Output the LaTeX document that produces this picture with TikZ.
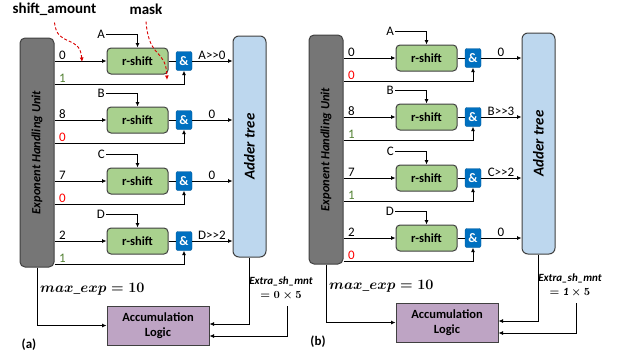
\documentclass[tikz,border=0pt]{standalone}
\usepackage{fontspec}
\setmainfont{Carlito}
\usepackage{amsmath}
\usetikzlibrary{arrows.meta}

\definecolor{ehugray}{RGB}{118,118,118}
\definecolor{edgegray}{RGB}{64,64,64}
\definecolor{shiftgreen}{RGB}{169,209,142}
\definecolor{andblue}{RGB}{0,112,192}
\definecolor{addblue}{RGB}{189,215,238}
\definecolor{accpurple}{RGB}{190,164,196}
\definecolor{maskgreen}{RGB}{84,130,53}

\tikzset{
  conn/.style={line width=0.8pt, -{Latex[length=4.5pt,width=4pt]}},
  wire/.style={line width=0.8pt},
  hint/.style={red!85!black, line width=0.9pt, dash pattern=on 3pt off 2pt,
    -{Latex[length=4.5pt,width=4pt]}},
  ehubox/.style={draw=edgegray, fill=ehugray, line width=1pt, rounded corners=5pt,
    minimum width=34pt, minimum height=229pt, inner sep=0pt,
    font=\fontsize{12.5}{14}\selectfont\bfseries\itshape},
  addbox/.style={draw=edgegray, fill=addblue, line width=1pt, rounded corners=6pt,
    minimum width=33pt, minimum height=221pt, inner sep=0pt,
    font=\fontsize{15}{17}\selectfont\bfseries\itshape},
  shiftbox/.style={draw=edgegray, fill=shiftgreen, line width=1pt, rounded corners=4pt,
    minimum width=61pt, minimum height=26pt, inner sep=0pt,
    font=\fontsize{12.5}{14}\selectfont\bfseries},
  andbox/.style={draw=andblue!80!black, fill=andblue, text=white, rounded corners=2pt,
    minimum width=16pt, minimum height=19pt, inner sep=0pt,
    font=\fontsize{13}{14}\selectfont\bfseries},
  accbox/.style={draw=edgegray, fill=accpurple, line width=1pt,
    minimum width=102pt, minimum height=39pt, inner sep=0pt, align=center,
    font=\fontsize{12.5}{15}\selectfont\bfseries},
  lbl/.style={inner sep=1pt, font=\fontsize{13}{14}\selectfont},
  toplbl/.style={inner sep=1pt, font=\fontsize{15}{17}\selectfont\bfseries},
}

% one panel: rows {y/shift/mask/colour/input/output}, extra factor, tag
\newcommand\drawpanel[3]{%
  \node[ehubox] (ehu) at (37,152.5) {\rotatebox{90}{Exponent Handling Unit}};
  \node[addbox] (add) at (249.5,146.5) {\rotatebox{90}{Adder tree}};
  \node[accbox] (acc) at (158,325.5) {Accumulation\\Logic};
  \foreach \y/\sv/\mv/\mc/\ltr/\res [count=\i] in {#1} {
    \node[shiftbox] (rs\i) at (137.5,\y) {r-shift};
    \node[andbox] (and\i) at (184,\y) {\&};
    \node[lbl, anchor=south west] (sv\i) at (58,\y) {\sv};
    \node[lbl, anchor=south west, text=\mc] (mv\i) at (58,\y+23) {\mv};
    \node[lbl, anchor=east] (in\i) at (106,\y-27) {\ltr};
    \node[lbl, anchor=south] (out\i) at (212,\y) {\res};
    \coordinate (mk\i) at (100,\y+23);
    \draw[conn] (ehu.east |- rs\i.west) -- (rs\i.west);
    \draw[conn] (in\i.east) -| (rs\i.north);
    \draw[wire] (rs\i.east) -- (and\i.west);
    \draw[conn] (ehu.east |- mk\i) -| (and\i.south);
    \draw[conn] (and\i.east) -- (add.west |- and\i.east);
  }
  \node[anchor=west, inner sep=0pt, font=\fontsize{13.5}{15}\selectfont\boldmath]
    (mexp) at (40,289) {$max\_exp = 10$};
  \node[align=center, inner sep=0pt, font=\fontsize{11}{14}\selectfont\boldmath]
    (extra) at (281,288) {\textbf{\textit{Extra\_sh\_mnt}}\\$=#2\times 5$};
  \coordinate (exs) at (287,306);
  \draw[conn] (ehu.south) |- (acc.west);
  \draw[conn] (add.south) |- ([yshift=1.5pt]acc.east);
  \draw[conn] (exs) |- ([yshift=-10.5pt]acc.east);
  \node[toplbl, font=\fontsize{13}{14}\selectfont\bfseries] (tag) at (29,345) {(#3)};
}

\begin{document}
\begin{tikzpicture}[x=1pt, y=-1pt]
\useasboundingbox (0,0) rectangle (617,356);

% panel (a)
\begin{scope}[name prefix=a-]
  \drawpanel{61/0/1/maskgreen/A/{A>{}>0}, 120/8/0/red/B/0,
    181/7/0/red/C/0, 241/2/1/maskgreen/D/{D>{}>2}}{0}{a}
  \node[toplbl] (samt) at (54.5,9) {shift\_amount};
  \node[toplbl] (mask) at (146,9) {mask};
  \coordinate (samt-end) at (82,62);
  \coordinate (mask-end) at (167,80);
  \draw[hint] ([yshift=-6pt]samt.south) .. controls (57,48) and (80,34) .. (samt-end);
  \draw[hint] ([yshift=-6pt]mask.south) .. controls (149,60) and (166,48) .. (mask-end);
\end{scope}

% panel (b)
\begin{scope}[shift={(289,-3)}, name prefix=b-]
  \drawpanel{61/0/0/red/A/0, 120/8/1/maskgreen/B/{B>{}>3},
    181/7/1/maskgreen/C/{C>{}>2}, 241/2/0/red/D/0}{\mathit{1}}{b}
\end{scope}
\end{tikzpicture}
\end{document}
